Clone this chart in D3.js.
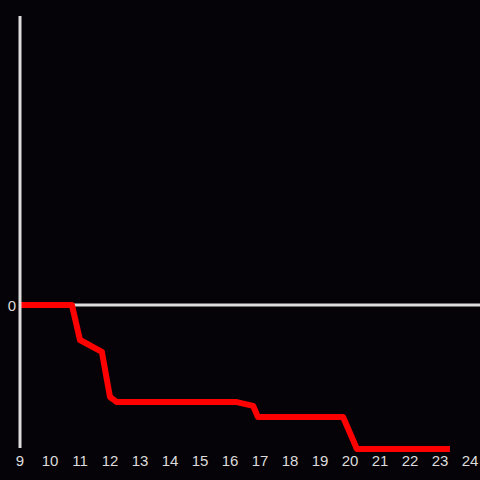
<!DOCTYPE html>
<html>
<head>
<meta charset="utf-8">
<script src="https://cdn.jsdelivr.net/npm/d3@7"></script>
<style>
  html, body { margin: 0; padding: 0; background: #050307; }
  svg { display: block; }
</style>
</head>
<body>
<div id="chart"></div>
<script>
const width = 480;
const height = 480;

// values
const hours = [9, 10.73, 11.0, 11.73, 12.0, 12.23, 16.23, 16.77, 16.93, 19.77, 20.23, 23.33];
const levels = [0, 0, -0.243, -0.326, -0.639, -0.674, -0.674, -0.70, -0.778, -0.778, -1.0, -1.0];
const xTicks = d3.range(9, 25);
const yTicks = [0];

const x = d3.scaleLinear().domain([9, 24]).range([20, 470]);
const y = d3.scaleLinear().domain([-1, 2]).range([449, 17]);

const svg = d3.select('#chart')
    .append('svg')
    .attr('width', width)
    .attr('height', height);

svg.append('rect')
    .attr('width', width)
    .attr('height', height)
    .attr('fill', '#050307');

// zero line (under the series)
svg.append('line')
    .attr('x1', x(9)).attr('x2', width)
    .attr('y1', y(0)).attr('y2', y(0))
    .attr('stroke', '#dedede')
    .attr('stroke-width', 3);

// red series
const line = d3.line()
    .x((d, i) => x(hours[i]))
    .y(d => y(d));

svg.append('path')
    .datum(levels)
    .attr('d', line)
    .attr('fill', 'none')
    .attr('stroke', '#ff0000')
    .attr('stroke-width', 6)
    .attr('stroke-linejoin', 'round');

// vertical axis on top
svg.append('line')
    .attr('x1', x(9)).attr('x2', x(9))
    .attr('y1', 16).attr('y2', 448)
    .attr('stroke', '#dedede')
    .attr('stroke-width', 3);

// tick labels
svg.append('g')
    .selectAll('text')
    .data(xTicks)
    .join('text')
    .attr('x', d => x(d))
    .attr('y', 466)
    .attr('text-anchor', 'middle')
    .attr('fill', '#dcdcdc')
    .attr('font-family', 'Liberation Sans, Arial, sans-serif')
    .attr('font-size', 15)
    .text(d => d);

svg.append('g')
    .selectAll('text')
    .data(yTicks)
    .join('text')
    .attr('x', 12)
    .attr('y', d => y(d) + 6)
    .attr('text-anchor', 'middle')
    .attr('fill', '#dcdcdc')
    .attr('font-family', 'Liberation Sans, Arial, sans-serif')
    .attr('font-size', 15)
    .text(d => d);
</script>
</body>
</html>
